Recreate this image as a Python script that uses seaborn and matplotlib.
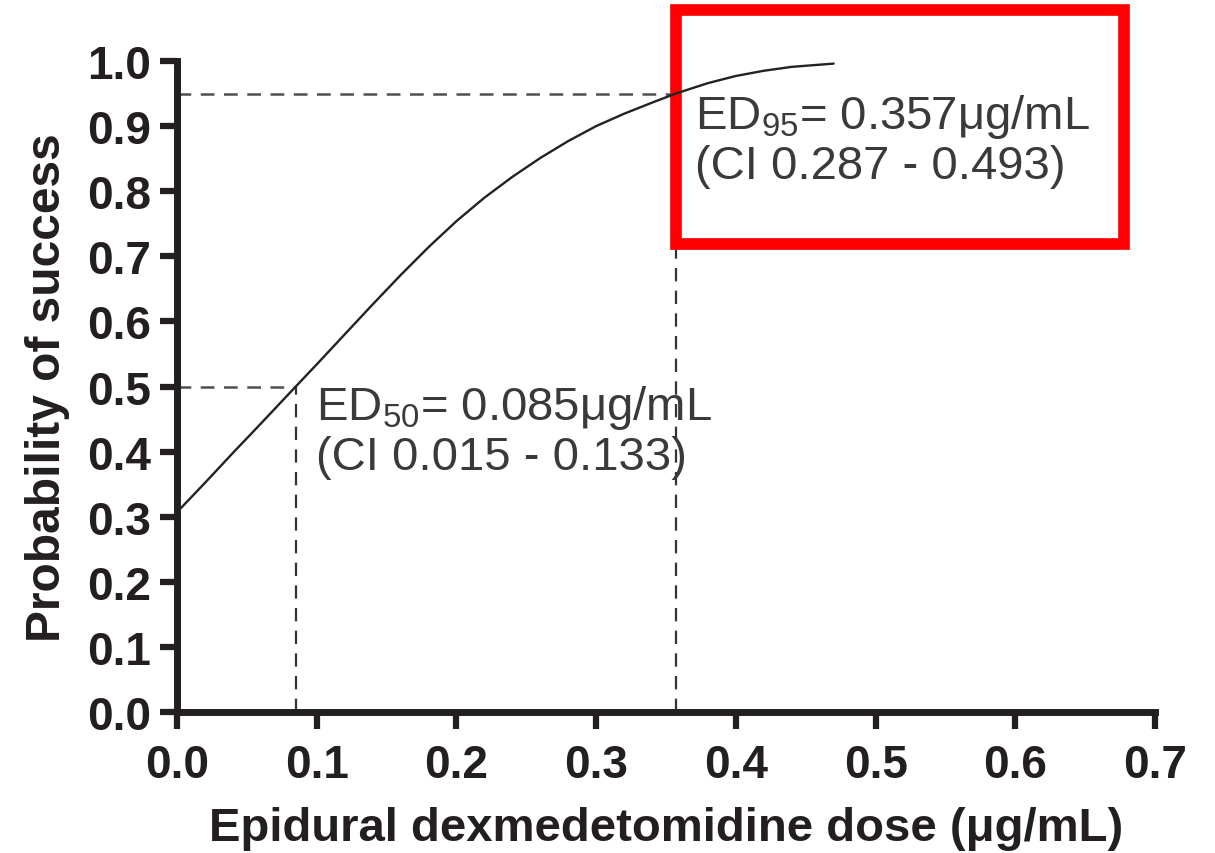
import matplotlib
matplotlib.use("Agg")
import matplotlib.pyplot as plt
from matplotlib.patches import Rectangle
import pandas as pd
import seaborn as sns

# Fitted dose-response curve (probability of success vs. dose)
dose = [0.000, 0.020, 0.040, 0.060, 0.085, 0.100, 0.120, 0.140, 0.160, 0.180,
        0.200, 0.220, 0.240, 0.260, 0.280, 0.300, 0.320, 0.340, 0.357, 0.380,
        0.400, 0.420, 0.440, 0.470]
prob = [0.307, 0.352, 0.398, 0.443, 0.500, 0.534, 0.580, 0.626, 0.671, 0.714,
        0.754, 0.790, 0.822, 0.851, 0.877, 0.900, 0.919, 0.936, 0.950, 0.966,
        0.977, 0.985, 0.991, 0.996]

# Effective doses and their labels
ed_levels = [0.50, 0.95]
ed_doses = [0.085, 0.357]
ed_labels = [r"ED$_\mathregular{50}$= 0.085μg/mL", r"ED$_\mathregular{95}$= 0.357μg/mL"]
ci_labels = ["(CI 0.015 - 0.133)", "(CI 0.287 - 0.493)"]

x_ticks = [0.0, 0.1, 0.2, 0.3, 0.4, 0.5, 0.6, 0.7]
y_ticks = [0.0, 0.1, 0.2, 0.3, 0.4, 0.5, 0.6, 0.7, 0.8, 0.9, 1.0]
x_label = "Epidural dexmedetomidine dose (μg/mL)"
y_label = "Probability of success"

sns.set_style("ticks")
plt.rcParams["font.family"] = ["Liberation Sans", "DejaVu Sans"]
plt.rcParams["mathtext.fontset"] = "custom"
plt.rcParams["mathtext.rm"] = "Liberation Sans"
plt.rcParams["mathtext.it"] = "Liberation Sans:italic"
plt.rcParams["mathtext.bf"] = "Liberation Sans:bold"

ink = "#231f20"
text_grey = "#3a3a3a"

fig = plt.figure(figsize=(12.15, 8.54), dpi=100)
ax = fig.add_axes([0.1457, 0.1651, 0.8049, 0.7623])

df = pd.DataFrame({"dose": dose, "prob": prob})
sns.lineplot(data=df, x="dose", y="prob", ax=ax, color="#222222",
             linewidth=1.7, zorder=4, clip_on=False)

# Dashed guides from the axes to each effective dose
for lvl, d in zip(ed_levels, ed_doses):
    ax.plot([0, d], [lvl, lvl], color="#505050", lw=1.8, ls=(0, (5.5, 3.8)), zorder=2)
    ax.plot([d, d], [0, lvl], color="#333333", lw=1.6, ls=(0, (6.0, 4.2)), zorder=2)

# Annotations
text_pos = [(0.0995, 0.450, 0.373), (0.371, 0.897, 0.821)]
for (tx, ty1, ty2), lab, ci in zip(text_pos, ed_labels, ci_labels):
    ax.text(tx, ty1, lab, fontsize=34, color=text_grey, va="baseline", ha="left", zorder=5)
    ax.text(tx, ty2, ci, fontsize=34, color=text_grey, va="baseline", ha="left", zorder=5)

# Highlight frame around the ED95 result
frame = Rectangle((0.5564, 0.7131), 0.3687, 0.2740, transform=fig.transFigure,
                  facecolor="white", edgecolor="#ff0000", linewidth=8.4,
                  zorder=3, clip_on=False)
ax.add_patch(frame)

ax.set_xlim(0, 0.7)
ax.set_ylim(0, 1.0)
ax.set_xticks(x_ticks)
ax.set_yticks(y_ticks)
ax.set_xticklabels([f"{v:.1f}" for v in x_ticks])
ax.set_yticklabels([f"{v:.1f}" for v in y_ticks])

for side in ["top", "right"]:
    ax.spines[side].set_visible(False)
for side in ["left", "bottom"]:
    ax.spines[side].set_linewidth(5)
    ax.spines[side].set_color(ink)
    ax.spines[side].set_capstyle("projecting")

ax.tick_params(axis="both", direction="out", length=12, width=4.5, color=ink,
               labelsize=33, labelcolor=ink, pad=7)
ax.tick_params(axis="x", pad=10)
for lab in ax.get_xticklabels() + ax.get_yticklabels():
    lab.set_fontweight("bold")

ax.set_xlabel(x_label, fontsize=34, fontweight="bold", color=ink, labelpad=14)
ax.set_ylabel(y_label, fontsize=34.5, fontweight="bold", color=ink, labelpad=12)

fig.savefig("out.png", dpi=100, facecolor="white")
